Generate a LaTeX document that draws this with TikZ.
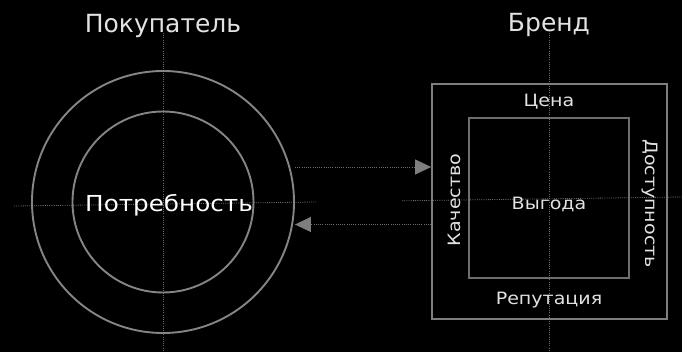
\documentclass[tikz,border=0pt]{standalone}
\usepackage{fontspec}
\setmainfont{DejaVu Sans}[FakeStretch=1.12]
\newfontfamily\headfont{DejaVu Sans}
\usetikzlibrary{arrows.meta}
\definecolor{bg}{HTML}{000000}
\definecolor{ring}{HTML}{858585}
\definecolor{frame}{HTML}{7E7E7E}
\definecolor{guide}{HTML}{6E6E6E}
\definecolor{label}{HTML}{E2E2E2}
\tikzset{
  ringline/.style={draw=ring, line width=1.9pt, circle, inner sep=0pt},
  boxline/.style={draw=frame, line width=1.8pt, rectangle, inner sep=0pt},
  guideline/.style={draw=guide, line width=0.8pt, dash pattern=on 1pt off 1.2pt},
  flow/.style={guideline, -{Triangle[length=16pt,width=15pt,fill=frame,color=frame]}},
  txt/.style={text=label, inner sep=0pt},
  title/.style={txt, anchor=base, font=\headfont\fontsize{25}{25}\selectfont},
  small/.style={txt, font=\fontsize{17}{17}\selectfont},
}
\begin{document}
\begin{tikzpicture}[x=1pt,y=-1pt]
  \fill[bg] (0,0) rectangle (682,352);
  \useasboundingbox (0,0) rectangle (682,352);

  % guide axes
  \draw[guideline] (163,33) -- (163,352);
  \draw[guideline] (549,33) -- (549,352);
  \draw[guideline] (14,206) -- (316,202);
  \draw[guideline] (402,200.8) -- (682,197);

  % customer side
  \node[ringline, minimum size=262pt] (outer) at (163,202) {};
  \node[ringline, minimum size=181pt] (inner) at (163,202) {};
  \node[title] (buyer) at (163,33) {Покупатель};
  \node[txt, anchor=base, text=white, font=\fontsize{22}{22}\selectfont] (need) at (169,212) {Потребность};

  % brand side
  \node[boxline, minimum size=235pt] (sq) at (549.5,201.5) {};
  \node[boxline, draw=guide, minimum size=160pt] (core) at (549,198) {};
  \node[title] (brand) at (549,32) {Бренд};
  \node[small, anchor=base] (price) at (549,107) {Цена};
  \node[small, anchor=base] (gain) at (549,210) {Выгода};
  \node[small, anchor=base] (rep) at (549,305) {Репутация};
  \node[small, anchor=base, rotate=90] (qual) at (460.5,200) {Качество};
  \node[small, rotate=-90] (avail) at (650,203.5) {Доступность};

  % exchange between the two sides
  \coordinate (offerstart) at ([yshift=35pt]outer.east);
  \coordinate (replystart) at ([yshift=-23pt]sq.west);
  \draw[flow] (offerstart) -- (sq.west |- offerstart);
  \draw[flow] (replystart) -- (outer.east |- replystart);
\end{tikzpicture}
\end{document}
